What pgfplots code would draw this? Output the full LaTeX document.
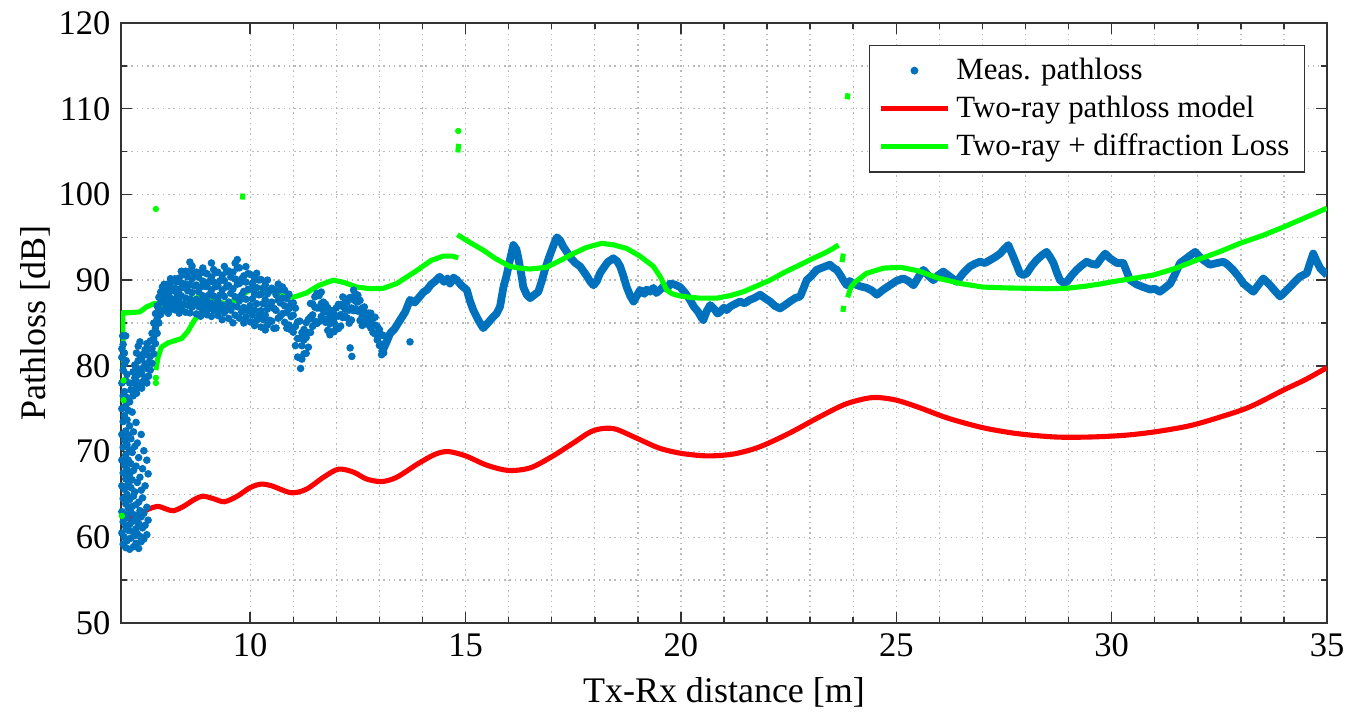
\documentclass[border=0pt]{standalone}
\usepackage{fontspec}
\setmainfont{Liberation Serif}
\usepackage{pgfplots}
\pgfplotsset{compat=1.18}
\definecolor{mblue}{rgb}{0,0.447,0.741}
\definecolor{mred}{rgb}{1,0,0}
\definecolor{mgreen}{rgb}{0,1,0}
\begin{document}
\begin{tikzpicture}
\begin{axis}[
 scale only axis, width=402pt, height=200pt,
 xmin=7, xmax=35, ymin=50, ymax=120,
 xtick={10,15,20,25,30,35}, ytick={50,60,...,120},
 minor x tick num=4, minor y tick num=1,
 grid=both,
 major grid style={gray!55, line width=0.45pt, dash pattern=on 0.45pt off 1.3pt},
 minor grid style={gray!55, line width=0.45pt, dash pattern=on 0.45pt off 1.3pt},
 axis line style={black!80, line width=0.5pt},
 tick style={black!80, line width=0.5pt},
 major tick length=3.6pt, minor tick length=2pt,
 /pgf/number format/assume math mode=true,
 tick label style={font=\fontsize{11.5}{13}\selectfont},
 label style={font=\fontsize{12}{14}\selectfont},
 xlabel={Tx-Rx distance [m]}, ylabel={Pathloss [dB]},
 ylabel shift={-4pt},
 legend style={at={(1,1)}, anchor=north east, xshift=-7.3pt, yshift=-7.3pt, draw=black!80, line width=0.5pt, font=\fontsize{10.3}{11}\selectfont, cells={anchor=west}},
 legend image code/.code={\draw[mark repeat=2,mark phase=2,#1] plot coordinates {(0cm,0cm) (0.39cm,0cm) (0.78cm,0cm)};},
]
% measured pathloss: scattered cloud part
\addplot[only marks, mark=*, mark size=1.05pt, color=mblue, mark options={draw=mblue, fill=mblue}] coordinates {
(7.02,60.5)(7.02,63)(7.02,66)(7.02,69)(7.02,72)(7.02,75)(7.02,78)(7.02,81)(7.02,82.0)(7.04,83.5)
(7.05,59.2)(7.05,61.8)(7.05,64.5)(7.05,67.5)(7.05,70.5)(7.05,73.5)(7.05,76.5)(7.05,79.5)(7.05,82.5)
(7.08,60.0)(7.08,62.7)(7.08,65.6)(7.08,68.4)(7.08,71.3)(7.08,74.2)(7.08,77.0)(7.08,80.2)(7.08,81.5)
(7.11,58.8)(7.11,61.2)(7.11,63.9)(7.11,66.8)(7.11,69.6)(7.11,72.4)(7.11,75.4)(7.11,78.3)(7.11,83.5)
(7.14,59.6)(7.14,62.3)(7.14,65.0)(7.14,67.9)(7.14,70.8)(7.14,73.7)(7.14,76.3)(7.14,79.0)(7.12,80.6)
(7.17,60.8)(7.17,63.4)(7.17,66.2)(7.17,69.0)(7.17,71.9)(7.17,74.8)
(7.2,58.6)(7.2,61.5)(7.2,64.4)(7.2,67.3)(7.2,70.2)(7.2,73.0)(7.2,75.8)(7.2,78.0)
(7.23,59.9)(7.23,62.9)(7.23,65.8)(7.23,68.6)(7.23,71.5)(7.23,77.2)
(7.26,60.7)(7.26,63.6)(7.26,66.7)(7.26,69.9)(7.26,74.6)
(7.29,58.9)(7.29,61.9)(7.29,64.8)(7.29,67.8)(7.29,72.3)(7.29,76.8)
(7.32,60.2)(7.32,62.6)(7.32,65.3)(7.32,70.6)
(7.35,59.3)(7.35,61.0)(7.35,63.8)(7.35,68.3)(7.35,73.4)
(7.38,60.4)(7.38,62.1)(7.38,66.4)(7.38,71.0)
(7.41,58.7)(7.41,61.6)(7.41,64.1)(7.41,69.3)
(7.44,60.1)(7.44,63.1)(7.44,67.0)
(7.47,59.5)(7.47,62.4)(7.47,65.5)(7.47,72.0)
(7.5,61.1)(7.5,64.6)(7.5,68.0)
(7.53,59.8)(7.53,62.8)(7.53,70.1)
(7.56,61.4)(7.56,66.0)
(7.6,60.3)(7.6,63.5)(7.6,69.0)
(7.63,62.0)(7.63,67.4)
(7.28,76.5)(7.28,78.0)(7.28,79.3)
(7.32,77.2)(7.32,78.6)(7.32,80.1)
(7.36,76.8)(7.36,78.2)(7.36,79.8)(7.36,81.5)
(7.40,77.5)(7.40,79.0)(7.40,80.6)(7.40,82.3)
(7.44,77.9)(7.44,79.5)(7.44,81.2)(7.44,82.8)
(7.48,77.4)(7.48,79.1)(7.48,80.8)
(7.52,78.2)(7.52,79.8)(7.52,81.4)
(7.56,78.6)(7.56,80.2)(7.56,81.9)
(7.60,78.0)(7.60,79.7)(7.60,81.3)(7.60,82.6)
(7.64,78.8)(7.64,80.4)(7.64,82.0)
(7.68,79.5)(7.68,81.1)(7.68,82.9)
(7.72,80.3)(7.72,82.0)(7.72,83.8)
(7.76,81.4)(7.76,83.2)(7.76,85.0)
(7.80,82.6)(7.80,84.4)(7.80,86.1)
(7.84,83.8)(7.84,85.5)(7.84,87.0)
(7.88,85.0)(7.88,86.6)(7.88,88.0)
(7.92,86.0)(7.92,87.4)(7.92,88.6)
(7.96,86.5)(7.96,88.0)(7.96,89.2)
(8.00,86.49)(8.00,87.53)(8.00,88.58)(8.00,89.51)
(8.05,87.04)(8.05,88.14)(8.05,89.20)
(8.10,86.13)(8.10,87.26)(8.10,88.44)(8.10,89.57)
(8.15,86.65)(8.15,87.89)(8.15,89.10)(8.15,90.17)
(8.20,87.22)(8.20,88.77)(8.20,89.88)
(8.25,86.54)(8.25,87.79)(8.25,89.04)(8.25,90.16)
(8.30,87.06)(8.30,88.45)(8.30,89.79)
(8.35,86.15)(8.35,87.50)(8.35,88.90)(8.35,90.25)
(8.40,86.61)(8.40,88.18)(8.40,89.69)(8.40,91.04)
(8.45,87.20)(8.45,89.15)(8.45,90.64)
(8.50,86.26)(8.50,87.91)(8.50,89.56)(8.50,91.04)
(8.55,87.08)(8.55,88.76)(8.55,90.38)
(8.60,86.18)(8.60,87.80)(8.60,89.48)(8.60,91.10)(8.60,92.1)
(8.65,86.87)(8.65,88.55)(8.65,90.18)(8.65,91.63)
(8.70,87.28)(8.70,89.33)(8.70,90.82)
(8.75,86.06)(8.75,87.75)(8.75,89.43)(8.75,90.94)
(8.80,86.92)(8.80,88.66)(8.80,90.34)
(8.85,85.79)(8.85,87.46)(8.85,89.20)(8.85,90.87)
(8.90,86.42)(8.90,88.18)(8.90,89.89)(8.90,91.42)
(8.95,87.09)(8.95,89.28)(8.95,90.87)
(9.00,85.96)(9.00,87.61)(9.00,89.26)(9.00,90.74)
(9.05,86.71)(9.05,88.31)(9.05,89.85)
(9.10,85.77)(9.10,87.28)(9.10,88.85)(9.10,90.36)(9.10,92.0)
(9.15,86.47)(9.15,88.15)(9.15,89.78)(9.15,91.23)
(9.20,87.01)(9.20,89.24)(9.20,90.86)
(9.25,85.88)(9.25,87.62)(9.25,89.36)(9.25,90.92)
(9.30,86.52)(9.30,88.26)(9.30,89.94)
(9.35,85.39)(9.35,87.09)(9.35,88.85)(9.35,90.56)
(9.40,86.19)(9.40,88.10)(9.40,89.95)(9.40,91.60)
(9.45,86.77)(9.45,89.22)(9.45,90.98)
(9.50,85.53)(9.50,87.44)(9.50,89.36)(9.50,91.07)
(9.55,86.50)(9.55,88.47)(9.55,90.37)
(9.60,85.02)(9.60,86.96)(9.60,88.98)(9.60,90.92)
(9.65,85.91)(9.65,88.06)(9.65,90.13)(9.65,91.98)
(9.70,86.90)(9.70,89.53)(9.70,91.42)(9.70,92.4)
(9.75,85.56)(9.75,87.59)(9.75,89.62)(9.75,91.44)
(9.80,86.30)(9.80,88.27)(9.80,90.17)
(9.85,85.0)(9.85,86.81)(9.85,88.69)(9.85,90.50)
(9.90,85.68)(9.90,87.77)(9.90,89.78)(9.90,91.58)
(9.95,86.42)(9.95,88.94)(9.95,90.76)
(10.00,85.13)(10.00,87.04)(10.00,88.96)(10.00,90.67)
(10.05,85.93)(10.05,87.82)(10.05,89.64)
(10.10,84.70)(10.10,86.51)(10.10,88.39)(10.10,90.20)
(10.15,85.31)(10.15,87.25)(10.15,89.12)(10.15,90.80)
(10.20,85.92)(10.20,88.29)(10.20,90.01)
(10.25,84.53)(10.25,86.44)(10.25,88.36)(10.25,90.07)
(10.30,85.41)(10.30,87.26)(10.30,89.06)
(10.35,84.19)(10.35,85.92)(10.35,87.71)(10.35,89.44)
(10.40,84.76)(10.40,86.62)(10.40,88.41)(10.40,90.01)
(10.45,85.32)(10.45,87.06)(10.45,88.74)
(10.50,85.21)(10.50,87.44)(10.50,89.06)
(10.55,84.38)(10.55,86.70)(10.55,88.90)
(10.60,84.42)(10.60,86.47)(10.60,88.30)
(10.65,85.56)(10.65,87.68)(10.65,89.54)
(10.70,85.79)(10.70,87.35)(10.70,88.87)
(10.75,86.10)(10.75,87.90)(10.75,89.20)
(10.80,85.08)(10.80,87.0)(10.80,88.82)
(10.85,84.39)(10.85,86.22)(10.85,87.85)
(10.90,84.76)(10.90,86.68)(10.90,88.36)
(10.95,84.19)(10.95,85.75)(10.95,87.27)
(11.00,83.93)(11.00,85.91)(11.00,87.34)
(11.05,82.36)(11.05,84.60)(11.05,86.73)
(11.10,81.03)(11.10,83.19)(11.10,85.13)
(11.15,80.94)(11.15,83.22)(11.15,85.22)(11.17,79.7)
(11.20,80.79)(11.20,82.35)(11.20,83.87)
(11.25,81.40)(11.25,83.05)(11.25,84.25)
(11.30,81.46)(11.30,83.3)(11.30,85.05)
(11.35,82.18)(11.35,83.89)(11.35,85.42)
(11.40,83.90)(11.40,85.70)(11.40,87.28)
(11.45,84.61)(11.45,85.95)(11.45,87.23)
(11.50,85.20)(11.50,86.85)(11.50,88.05)
(11.55,84.95)(11.55,86.75)(11.55,88.46)
(11.60,85.17)(11.60,86.76)(11.60,88.19)
(11.65,85.76)(11.65,87.28)(11.65,88.61)
(11.70,85.39)(11.70,86.44)(11.70,87.44)
(11.75,85.08)(11.75,86.31)(11.75,87.19)
(11.80,84.14)(11.80,85.5)(11.80,86.79)
(11.85,83.63)(11.85,84.89)(11.85,86.01)
(11.90,83.96)(11.90,85.28)(11.90,86.44)
(11.95,83.99)(11.95,85.04)(11.95,86.04)
(12.00,84.46)(12.00,85.79)(12.00,86.76)
(12.05,84.36)(12.05,85.8)(12.05,87.17)
(12.10,84.64)(12.10,85.97)(12.10,87.16)
(12.15,85.64)(12.15,86.92)(12.15,88.04)
(12.20,85.82)(12.20,86.63)(12.20,87.41)
(12.25,85.58)(12.25,86.66)(12.25,87.44)
(12.30,84.98)(12.30,86.5)(12.30,87.94)
(12.35,85.35)(12.35,86.75)(12.35,88.01)
(12.40,86.44)(12.40,87.72)(12.40,88.84)
(12.45,86.66)(12.45,87.53)(12.45,88.37)
(12.50,86.38)(12.50,87.46)(12.50,88.24)
(12.55,85.3)(12.55,86.5)(12.55,87.64)
(12.60,84.71)(12.60,85.78)(12.60,86.73)
(12.65,84.92)(12.65,85.96)(12.65,86.87)
(12.70,84.88)(12.70,85.52)(12.70,86.14)
(12.75,84.92)(12.75,85.64)(12.75,86.16)
(12.80,84.42)(12.80,85.3)(12.80,86.14)
(12.85,83.90)(12.85,84.81)(12.85,85.62)
(12.90,83.72)(12.90,84.76)(12.90,85.67)
(12.95,83.02)(12.95,83.83)(12.95,84.61)
(13.00,82.38)(13.00,83.46)(13.00,84.24)
(13.05,81.3)(13.05,82.5)(13.05,83.64)
(13.10,81.51)(13.10,82.58)(13.10,83.53)
(12.32,82.1)(12.36,81.1)(13.71,82.8)
};
\addlegendentry{Meas. pathloss}
% measured pathloss: dense band part
\addplot[forget plot, color=mblue, line width=2.6pt, line join=round] coordinates {
(13.05,81.5)(13.15,82.6)(13.25,83.8)(13.35,84.3)(13.48,85.35)(13.6,86.3)(13.71,87.7)(13.82,87.4)(13.94,88.1)(14.02,88.6)
(14.1,88.85)(14.2,89.5)(14.3,89.9)(14.4,90.4)(14.5,89.8)(14.58,90.2)(14.64,89.6)(14.72,90.3)(14.8,90.0)(14.9,89.4)
(15.03,88.85)(15.1,87.6)(15.18,86.5)(15.3,85.3)(15.41,84.4)(15.5,84.9)(15.64,85.7)(15.72,86.1)(15.8,86.9)(15.88,89.2)
(15.95,90.5)(16.05,92.8)(16.11,94.1)(16.18,93.6)(16.22,92.7)(16.3,90.5)(16.34,89.2)(16.42,88.3)(16.5,87.9)(16.6,88.3)
(16.69,88.65)(16.77,89.9)(16.84,91.2)(16.92,92.4)(17.0,93.5)(17.06,94.3)(17.12,95.0)(17.2,94.6)(17.27,93.9)(17.35,93.3)
(17.42,92.7)(17.55,92.0)(17.66,91.6)(17.8,90.6)(17.9,89.8)(17.97,89.4)(18.05,89.9)(18.12,90.8)(18.2,91.4)(18.3,92.1)
(18.43,92.55)(18.52,92.2)(18.59,91.6)(18.67,90.4)(18.74,89.2)(18.82,88.2)(18.9,87.5)(18.98,88.2)(19.05,88.85)(19.15,88.4)
(19.2,88.9)(19.28,88.65)(19.36,89.1)(19.43,88.5)(19.51,88.85)(19.6,89.3)(19.68,89.0)(19.75,89.6)(19.85,89.5)(19.98,89.2)
(20.1,88.5)(20.21,87.7)(20.3,86.9)(20.4,86.3)(20.48,85.6)(20.52,85.35)(20.6,86.4)(20.68,87.1)(20.78,86.6)(20.85,86.1)
(20.91,86.3)(21.0,86.8)(21.06,86.5)(21.14,86.9)(21.25,87.2)(21.37,87.5)(21.48,87.3)(21.6,87.7)(21.7,87.9)(21.84,88.3)
(21.95,87.9)(22.07,87.5)(22.18,87.0)(22.3,86.7)(22.42,87.1)(22.53,87.5)(22.65,87.9)(22.77,88.1)(22.85,89.1)(22.92,90.0)
(23.03,90.5)(23.15,91.2)(23.3,91.5)(23.46,91.8)(23.55,91.4)(23.62,91.2)(23.7,90.6)(23.77,90.0)(23.85,89.4)(23.92,89.9)
(24.0,89.6)(24.15,89.3)(24.31,89.1)(24.43,88.8)(24.55,88.3)(24.7,88.9)(24.85,89.4)(25.0,89.9)(25.16,90.2)(25.28,89.9)
(25.4,89.4)(25.52,90.4)(25.63,91.2)(25.75,90.5)(25.86,90.0)(25.98,90.6)(26.09,91.0)(26.25,90.4)(26.4,89.8)(26.55,90.8)
(26.71,91.6)(26.82,91.9)(26.94,92.15)(27.06,92.0)(27.18,92.35)(27.3,92.7)(27.41,93.1)(27.5,93.6)(27.6,94.1)(27.66,93.4)
(27.72,92.7)(27.8,91.7)(27.87,90.8)(27.95,90.6)(28.03,90.8)(28.15,91.7)(28.26,92.35)(28.38,92.9)(28.49,93.3)(28.57,92.7)
(28.65,92.0)(28.72,91.0)(28.8,90.0)(28.88,89.7)(28.96,89.8)(29.08,90.6)(29.19,91.2)(29.3,91.7)(29.42,92.15)(29.53,91.9)
(29.65,91.8)(29.75,92.5)(29.85,93.1)(29.96,92.55)(30.12,92.0)(30.27,92.0)(30.35,91.0)(30.43,90.0)(30.58,89.5)(30.73,89.2)
(30.9,88.9)(31.0,89.0)(31.12,88.65)(31.24,89.1)(31.36,89.6)(31.48,90.8)(31.59,92.0)(31.75,92.6)(31.94,93.3)(32.03,92.8)
(32.13,92.35)(32.28,91.8)(32.45,92.0)(32.6,92.15)(32.72,91.7)(32.82,91.2)(32.95,90.4)(33.06,89.6)(33.18,89.1)(33.29,88.65)
(33.4,89.4)(33.52,90.2)(33.6,89.8)(33.68,89.4)(33.8,88.7)(33.91,88.1)(34.02,88.6)(34.14,89.2)(34.25,89.8)(34.37,90.4)
(34.45,90.6)(34.53,90.8)(34.6,91.9)(34.68,93.1)(34.76,92.2)(34.84,91.4)(34.92,91.0)(35.0,90.6)
};
% two-ray model
\addplot[color=mred, line width=1.7pt, smooth] coordinates {
(7.0,62.4)(7.2,62.2)(7.4,62.5)(7.6,63.2)(7.85,63.6)(8.05,63.3)(8.22,63.1)(8.45,63.6)(8.7,64.4)(8.9,64.8)
(9.15,64.5)(9.4,64.15)(9.7,64.8)(10.0,65.8)(10.25,66.2)(10.5,66.0)(10.95,65.2)(11.3,65.6)(11.7,67.0)(12.05,67.95)
(12.4,67.6)(12.7,66.8)(13.05,66.5)(13.4,67.0)(13.9,68.6)(14.3,69.7)(14.6,70.0)(15.0,69.5)(15.5,68.4)(16.0,67.8)
(16.5,68.1)(17.0,69.4)(17.5,71.0)(17.9,72.3)(18.2,72.7)(18.5,72.6)(19.0,71.5)(19.5,70.4)(20.0,69.8)(20.6,69.5)
(21.2,69.7)(21.8,70.5)(22.5,72.1)(23.2,74.0)(23.8,75.5)(24.3,76.2)(24.6,76.3)(25.0,76.0)(25.5,75.2)(26.2,73.9)
(27.0,72.8)(27.8,72.1)(28.7,71.7)(29.5,71.7)(30.3,71.9)(31.0,72.3)(31.8,73.0)(32.5,74.0)(33.2,75.2)(34.0,77.2)
(34.5,78.4)(35.0,79.8)
};
\addlegendentry{Two-ray pathloss model}
% two-ray + diffraction
\addplot[color=mgreen, line width=1.7pt, line join=round] coordinates {
(7.06,79.2)(7.05,82.0)(7.04,86.2)(7.2,86.2)(7.44,86.3)(7.6,86.9)(7.79,87.3)(7.95,87.1)(8.1,86.8)(8.29,86.6)
(8.45,86.9)(8.65,87.7)(8.83,88.1)(9.0,87.9)(9.2,87.5)(9.4,87.3)(9.6,87.5)(9.8,88.2)(10.0,88.9)(10.23,89.1)
(10.45,88.8)(10.7,88.2)(11.0,88.0)(11.3,88.5)(11.6,89.4)(11.93,90.0)(12.2,89.7)(12.47,89.2)(12.8,89.0)(13.09,89.05)
(13.4,89.6)(13.86,91.1)(14.2,92.3)(14.48,92.8)(14.7,92.8)(14.83,92.6)
};
\addlegendentry{Two-ray + diffraction Loss}
\addplot[forget plot, color=mgreen, line width=1.7pt, line join=round] coordinates {
(7.81,79.5)(7.86,81.0)(7.94,82.2)(8.1,82.7)(8.41,83.2)(8.55,84.0)(8.7,85.3)(8.83,86.1)(9.05,86.6)(9.30,86.9)
(9.5,87.3)(9.76,88.1)(9.82,88.3)
};
\addplot[forget plot, color=mgreen, line width=1.7pt, line join=round] coordinates {
(14.81,95.3)(15.1,94.4)(15.41,93.5)(15.7,92.5)(16.03,91.6)(16.26,91.4)(16.5,91.3)(16.88,91.5)(17.2,92.3)(17.5,93.1)
(17.8,93.8)(18.16,94.3)(18.45,94.1)(18.74,93.7)(19.05,92.8)(19.36,91.6)(19.52,90.4)(19.67,88.85)(19.8,88.4)(19.98,88.15)
(20.21,88.0)(20.44,87.9)(20.83,87.9)(21.15,88.2)(21.45,88.65)(21.75,89.3)(22.07,90.0)(22.4,90.9)(22.77,91.8)(23.05,92.5)
(23.31,93.1)(23.5,93.6)(23.66,94.1)
};
\addplot[forget plot, color=mgreen, line width=1.7pt, line join=round] coordinates {
(23.87,88.0)(23.95,89.2)(24.05,89.8)(24.31,90.8)(24.7,91.4)(25.1,91.5)(25.5,91.1)(26.0,90.2)(26.5,89.6)(27.0,89.2)
(27.5,89.1)(28.03,89.05)(28.5,89.0)(28.96,89.05)(29.4,89.3)(29.73,89.55)(30.0,89.8)(30.5,90.2)(30.97,90.6)(31.5,91.4)
(31.98,92.35)(32.5,93.3)(32.98,94.3)(33.5,95.2)(33.99,96.2)(34.5,97.3)(35.0,98.4)
};
\addplot[forget plot, color=mgreen, line width=1.7pt] coordinates {(23.74,92.1)(23.77,93.1)};
\addplot[forget plot, color=mgreen, line width=1.7pt] coordinates {(23.76,86.3)(23.78,87.0)};
\addplot[forget plot, color=mgreen, line width=1.7pt] coordinates {(9.82,99.4)(9.83,100.1)};
\addplot[forget plot, color=mgreen, line width=1.7pt] coordinates {(14.82,104.9)(14.84,105.9)};
\addplot[forget plot, color=mgreen, line width=1.7pt] coordinates {(23.86,111.1)(23.88,111.8)};
\addplot[forget plot, only marks, mark=*, mark size=0.85pt, color=mgreen] coordinates {
(7.81,98.3)(14.83,107.4)(7.06,78.3)(7.06,76.0)(7.02,62.5)(7.81,78.0)(7.81,78.6)
};
\end{axis}
\pgfresetboundingbox
\path ([xshift=-40.33pt,yshift=-29.67pt]current axis.south west) rectangle ([xshift=7pt,yshift=7.67pt]current axis.north east);
\end{tikzpicture}
\end{document}
